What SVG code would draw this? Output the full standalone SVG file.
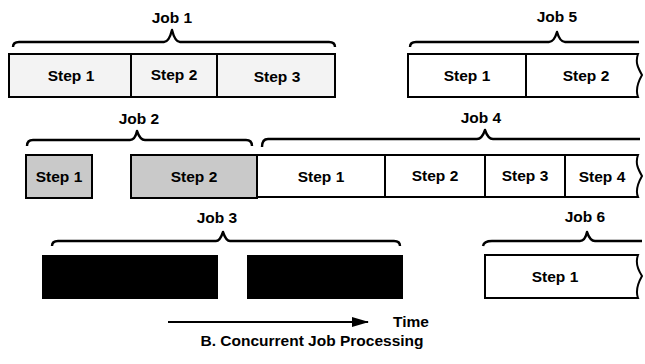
<svg xmlns="http://www.w3.org/2000/svg" width="645" height="364" viewBox="0 0 645 364">
<defs>
<style>
.lbl{font-family:"Liberation Sans",Arial,sans-serif;font-weight:bold;font-size:15.5px;fill:#000;text-anchor:middle}
.box{stroke:#000;stroke-width:2}
.div{stroke:#000;stroke-width:2}
.brace{fill:none;stroke:#000;stroke-width:2.4;stroke-linejoin:round}
.light{fill:#f3f3f3}
.mid{fill:#c9c9c9}
.white{fill:#fff}
.black{fill:#000}
</style>
<marker id="arr" markerWidth="17" markerHeight="10" refX="16" refY="5" orient="auto" markerUnits="userSpaceOnUse" viewBox="0 0 17 10">
<path d="M0,0 L17,5 L0,10 Z" fill="#000"/>
</marker>
</defs>
<rect width="645" height="364" fill="#fff"/>

<g id="job1">
<path class="brace" d="M13,47 Q13,42 19,42 L164,42 Q169,42 172,30 Q175,42 180,42 L329,42 Q335,42 335,47"/>
<text class="lbl" x="172" y="23">Job 1</text>
<rect class="box light" x="9" y="54" width="326" height="43"/>
<line class="div" x1="131" y1="54" x2="131" y2="97"/>
<line class="div" x1="217" y1="54" x2="217" y2="97"/>
<text class="lbl" x="71" y="81">Step 1</text>
<text class="lbl" x="174" y="80">Step 2</text>
<text class="lbl" x="277" y="82">Step 3</text>
</g>

<g id="job5">
<path class="brace" d="M410,47 Q410,42 416,42 L549,42 Q554,42 557,32 Q560,42 565,42 L639,42"/>
<text class="lbl" x="557" y="22">Job 5</text>
<path class="box white" d="M408,54 L638,54 C635,62 638,68 642,75 C638,82 635,89 638,97 L408,97 Z"/>
<line class="div" x1="526" y1="54" x2="526" y2="97"/>
<text class="lbl" x="467" y="81">Step 1</text>
<text class="lbl" x="586" y="81">Step 2</text>
</g>

<g id="job2">
<path class="brace" d="M27,146 Q27,140 33,140 L130,140 Q135,140 137,131 Q140,140 145,140 L246,140 Q252,140 252,146"/>
<text class="lbl" x="139" y="124">Job 2</text>
<rect class="box mid" x="26" y="155" width="66" height="43"/>
<rect class="box mid" x="131" y="155" width="126" height="43"/>
<text class="lbl" x="59" y="182">Step 1</text>
<text class="lbl" x="194" y="182">Step 2</text>
</g>

<g id="job4">
<path class="brace" d="M262,147 Q262,139 268,139 L477,139 Q482,139 485,130 Q488,139 493,139 L640,139"/>
<text class="lbl" x="481" y="123">Job 4</text>
<path class="box white" d="M257,155 L638,155 C635,163 638,169 642,176 C638,183 635,190 638,197 L257,197 Z"/>
<line class="div" x1="385" y1="155" x2="385" y2="197"/>
<line class="div" x1="485" y1="155" x2="485" y2="197"/>
<line class="div" x1="565" y1="155" x2="565" y2="197"/>
<text class="lbl" x="321" y="182">Step 1</text>
<text class="lbl" x="435" y="181">Step 2</text>
<text class="lbl" x="525" y="181">Step 3</text>
<text class="lbl" x="602" y="182">Step 4</text>
</g>

<g id="job3">
<path class="brace" d="M52,246 Q52,241 58,241 L216,241 Q220,241 223,232 Q226,241 230,241 L394,241 Q400,241 400,246"/>
<text class="lbl" x="217" y="223">Job 3</text>
<rect class="black" x="42" y="255" width="176" height="44"/>
<rect class="black" x="247" y="255" width="156" height="44"/>
</g>

<g id="job6">
<path class="brace" d="M483,246 Q484,241 492,241 L580,241 Q585,241 587,232 Q590,241 595,241 L642,241"/>
<text class="lbl" x="585" y="222">Job 6</text>
<path class="box white" d="M485,255 L638,255 C635,263 638,270 642,276 C638,283 635,290 638,298 L485,298 Z"/>
<text class="lbl" x="555" y="282">Step 1</text>
</g>

<g id="connectors">
<line x1="168" y1="322" x2="368" y2="322" stroke="#000" stroke-width="2.2" marker-end="url(#arr)"/>
</g>

<text class="lbl" x="411" y="327">Time</text>
<text class="lbl" x="312" y="346">B. Concurrent Job Processing</text>
</svg>
